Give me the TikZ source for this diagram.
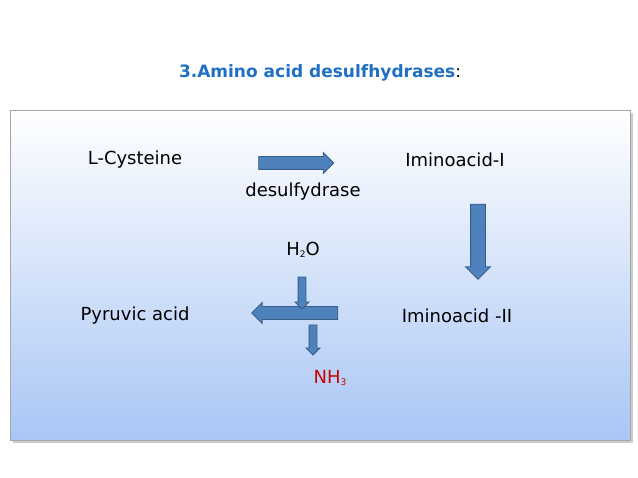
\documentclass[tikz,border=0pt]{standalone}
\usepackage{fontspec}
\setmainfont{DejaVu Sans}
\usetikzlibrary{shapes.arrows,shadows}
\definecolor{arrblue}{HTML}{4F81BD}
\definecolor{arredge}{HTML}{385D8A}
\definecolor{titleblue}{HTML}{1F6FC5}
\definecolor{boxblue}{HTML}{A9C6F5}
\begin{document}
\begin{tikzpicture}[x=1pt,y=-1pt,
	lbl/.style={font=\fontsize{18}{21}\selectfont},
	blk/.style={single arrow,draw=arredge,fill=arrblue,line width=0.8pt,
		inner xsep=0pt,minimum height=#1},
	vblk/.style={single arrow,draw=arredge,fill=arrblue,line width=0.8pt,
		inner ysep=0pt,minimum height=#1,shape border rotate=270},
	]
	\useasboundingbox (0,0) rectangle (638,478);
	
	\node[font=\bfseries\fontsize{17}{20}\selectfont,text=titleblue] (title) at (320,73)
		{3.Amino acid desulfhydrases\textcolor{black}{\mdseries:}};
	
	\shade[top color=white,bottom color=boxblue,draw=gray!70,
		drop shadow={opacity=0.4}] (10,110) rectangle (630,440);
	
	\node[lbl] (cys) at (135,160) {L-Cysteine};
	\node[lbl] (imI) at (455,160) {Iminoacid-I};
	\node[lbl] (enz) at (303,192) {desulfydrase};
	\node[lbl] (water) at (303,250) {H\raisebox{-0.2ex}{\small 2}O};
	\node[lbl] (pyr) at (135,316) {Pyruvic acid};
	\node[lbl] (imII) at (457,316) {Iminoacid -II};
	\node[lbl,text=red!80!black] (amm) at (330,378) {NH\raisebox{-0.2ex}{\small 3}};
	
	% block arrows
	\node[blk=75pt,inner ysep=6pt,single arrow head extend=4pt] (a1) at (293,163) {};
	\node[vblk=75pt,inner xsep=7pt,single arrow head extend=5pt] (a2) at (478,238) {};
	\node[blk=86pt,inner ysep=6pt,single arrow head extend=4pt,
		shape border rotate=180] (a3) at (298,313) {};
	\node[vblk=32pt,inner xsep=3.5pt,single arrow head extend=3pt] (a4) at (302,291) {};
	\node[vblk=30pt,inner xsep=3.5pt,single arrow head extend=3pt] (a5) at (313,338) {};
\end{tikzpicture}
\end{document}
